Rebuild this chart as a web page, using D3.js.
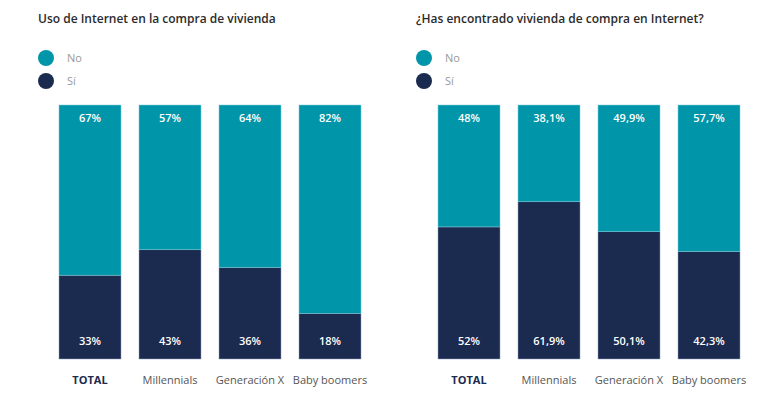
<!DOCTYPE html>
<html>
<head>
<meta charset="utf-8">
<script src="https://cdn.jsdelivr.net/npm/d3@7"></script>
<style>
  body { margin: 0; background: #fff; font-family: "Open Sans", sans-serif; }
</style>
</head>
<body>
<div id="chart"></div>
<script>
// two stacked 100% bar panels, No on top, Sí at the bottom
var categories = ['TOTAL', 'Millennials', 'Generación X', 'Baby boomers'];

var usoSi = [33, 43, 36, 18];
var usoNo = [67, 57, 64, 82];
var usoSiLabels = ['33%', '43%', '36%', '18%'];
var usoNoLabels = ['67%', '57%', '64%', '82%'];

var encSi = [52, 61.9, 50.1, 42.3];
var encNo = [48, 38.1, 49.9, 57.7];
var encSiLabels = ['52%', '61,9%', '50,1%', '42,3%'];
var encNoLabels = ['48%', '38,1%', '49,9%', '57,7%'];

var seriesNames = ['No', 'Sí'];
var colors = { 'No': '#0095a9', 'Sí': '#1b2a4f' };

var svg = d3.select('#chart').append('svg').attr('width', 770).attr('height', 399);

var panels = [
    { title: 'Uso de Internet en la compra de vivienda', left: 38, x0: 59, si: usoSi, no: usoNo, siL: usoSiLabels, noL: usoNoLabels },
    { title: '¿Has encontrado vivienda de compra en Internet?', left: 416, x0: 438, si: encSi, no: encNo, siL: encSiLabels, noL: encNoLabels }
];

var y = d3.scaleLinear().domain([0, 100]).range([359, 105]);

panels.forEach(function(p) {
    var g = svg.append('g');
    g.append('text').attr('x', p.left).attr('y', 23).text(p.title)
        .attr('font-size', 12).attr('font-weight', 600).attr('fill', '#2b2b2b');

    // legend
    seriesNames.forEach(function(s, i) {
        g.append('circle').attr('cx', p.left + 8).attr('cy', 58 + i * 23).attr('r', 8).attr('fill', colors[s]);
        g.append('text').attr('x', p.left + 29).attr('y', 62 + i * 23).text(s)
            .attr('font-size', 11).attr('fill', '#999');
    });

    var x = d3.scaleBand().domain(categories).range([p.x0 - 9, p.x0 - 9 + 320]).paddingInner(0.225).paddingOuter(0.1125);

    var rows = categories.map(function(c, i) {
        return { cat: c, si: p.si[i], no: p.no[i], siL: p.siL[i], noL: p.noL[i] };
    });

    // Sí segment (bottom)
    g.selectAll('.si').data(rows).enter().append('rect')
        .attr('x', function(d) { return x(d.cat); })
        .attr('y', function(d) { return y(d.si); })
        .attr('width', x.bandwidth())
        .attr('height', function(d) { return y(0) - y(d.si); })
        .attr('fill', colors['Sí']).attr('stroke', '#8fa3c0').attr('stroke-width', 0.5);
    // No segment (top)
    g.selectAll('.no').data(rows).enter().append('rect')
        .attr('x', function(d) { return x(d.cat); })
        .attr('y', function(d) { return y(d.si + d.no); })
        .attr('width', x.bandwidth())
        .attr('height', function(d) { return y(d.si) - y(d.si + d.no); })
        .attr('fill', colors['No']).attr('stroke', '#7fd0dc').attr('stroke-width', 0.5);

    g.selectAll('.noL').data(rows).enter().append('text')
        .attr('x', function(d) { return x(d.cat) + x.bandwidth() / 2; })
        .attr('y', function(d) { return y(d.si + d.no) + 17; })
        .attr('text-anchor', 'middle').attr('font-size', 11).attr('font-weight', 600).attr('fill', '#fff')
        .text(function(d) { return d.noL; });
    g.selectAll('.siL').data(rows).enter().append('text')
        .attr('x', function(d) { return x(d.cat) + x.bandwidth() / 2; })
        .attr('y', y(0) - 14)
        .attr('text-anchor', 'middle').attr('font-size', 11).attr('font-weight', 600).attr('fill', '#fff')
        .text(function(d) { return d.siL; });

    g.selectAll('.cat').data(categories).enter().append('text')
        .attr('x', function(d) { return x(d) + x.bandwidth() / 2; })
        .attr('y', 384)
        .attr('text-anchor', 'middle').attr('font-size', 11)
        .attr('font-weight', function(d, i) { return i === 0 ? 700 : 400; })
        .attr('fill', function(d, i) { return i === 0 ? '#1b2a4f' : '#555'; })
        .text(function(d) { return d; });
});
</script>
</body>
</html>
